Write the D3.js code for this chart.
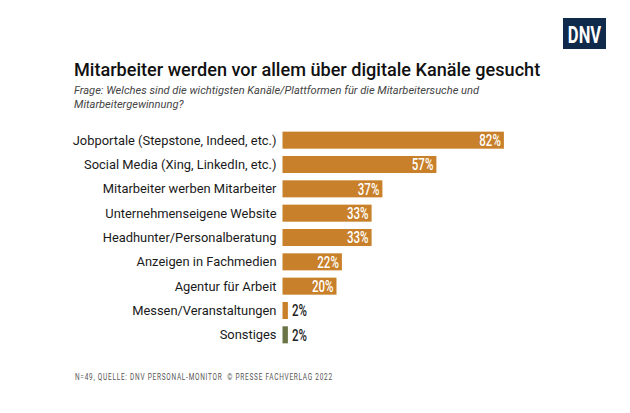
<!DOCTYPE html>
<html>
<head>
<meta charset="utf-8">
<script src="https://cdn.jsdelivr.net/npm/d3@7/dist/d3.min.js"></script>
<style>
  html, body { margin: 0; padding: 0; background: #fff; }
  svg { display: block; }
</style>
</head>
<body>
<script>
const categories = [
  'Jobportale (Stepstone, Indeed, etc.)',
  'Social Media (Xing, LinkedIn, etc.)',
  'Mitarbeiter werben Mitarbeiter',
  'Unternehmenseigene Website',
  'Headhunter/Personalberatung',
  'Anzeigen in Fachmedien',
  'Agentur für Arbeit',
  'Messen/Veranstaltungen',
  'Sonstiges'
];
const values = [82, 57, 37, 33, 33, 22, 20, 2, 2];
const barColors = ['#c8802a', '#c8802a', '#c8802a', '#c8802a', '#c8802a', '#c8802a', '#c8802a', '#c8802a', '#6b7446'];

const title = 'Mitarbeiter werden vor allem über digitale Kanäle gesucht';
const subtitle = ['Frage: Welches sind die wichtigsten Kanäle/Plattformen für die Mitarbeitersuche und', 'Mitarbeitergewinnung?'];
const source = 'N=49, QUELLE: DNV PERSONAL-MONITOR  \u00A9 PRESSE FACHVERLAG 2022';

const width = 630, height = 413;
const svg = d3.select('body').append('svg').attr('width', width).attr('height', height);

// condensed text helper: squeeze horizontally around the anchor point
function narrow(sel, px, py, sx) {
  sel.attr('transform', `translate(${px},${py}) scale(${sx},1)`);
}

// logo
const logo = svg.append('g').attr('transform', 'translate(563,18)');
logo.append('rect').attr('width', 43).attr('height', 31).attr('fill', '#0f2a4a');
logo.append('text').call(narrow, 21.5, 24.5, 0.72).attr('text-anchor', 'middle')
  .attr('font-family', 'Roboto').attr('font-weight', 'bold').attr('font-size', 23)
  .attr('fill', '#fff').text('DNV');

svg.append('text').attr('x', 74).attr('y', 76)
  .attr('font-family', 'Roboto').attr('font-weight', 500).attr('font-size', 18.1)
  .attr('fill', '#111').text(title);

svg.append('g').selectAll('text').data(subtitle).join('text')
  .attr('x', 74).attr('y', (d, i) => 94 + i * 14)
  .attr('font-family', 'Roboto').attr('font-style', 'italic')
  .attr('font-size', 11.1).attr('fill', '#444').text(d => d);

const x = d3.scaleLinear().domain([0, 100]).range([282.5, 552.5]);
const y = d3.scaleBand().domain(categories).range([128, 347]).paddingInner(0.3).paddingOuter(0.15);

const rows = svg.append('g').selectAll('g').data(categories).join('g')
  .attr('transform', d => `translate(0,${y(d)})`);

rows.append('rect')
  .attr('x', x(0)).attr('width', (d, i) => x(values[i]) - x(0))
  .attr('height', y.bandwidth()).attr('fill', (d, i) => barColors[i]);

rows.append('text')
  .attr('x', x(0) - 6).attr('y', y.bandwidth() / 2).attr('dy', '0.36em')
  .attr('text-anchor', 'end').attr('font-family', 'Roboto').attr('font-size', 12.9)
  .attr('fill', '#1a1a1a').text(d => d);

rows.append('text')
  .each(function (d, i) {
    const inside = values[i] > 10;
    d3.select(this).call(narrow, inside ? x(values[i]) - 3 : x(values[i]) + 4, y.bandwidth() / 2, 0.72);
  })
  .attr('dy', '0.36em')
  .attr('text-anchor', (d, i) => values[i] > 10 ? 'end' : 'start')
  .attr('font-family', 'Roboto').attr('font-weight', 500).attr('font-size', 16)
  .attr('fill', (d, i) => values[i] > 10 ? '#fff' : '#222')
  .text((d, i) => values[i] + '%');

svg.append('text').call(narrow, 75, 380, 0.72)
  .style('white-space', 'pre')
  .attr('font-family', 'Roboto').attr('font-size', 9)
  .attr('letter-spacing', 1.05).attr('fill', '#555').text(source);
</script>
</body>
</html>
